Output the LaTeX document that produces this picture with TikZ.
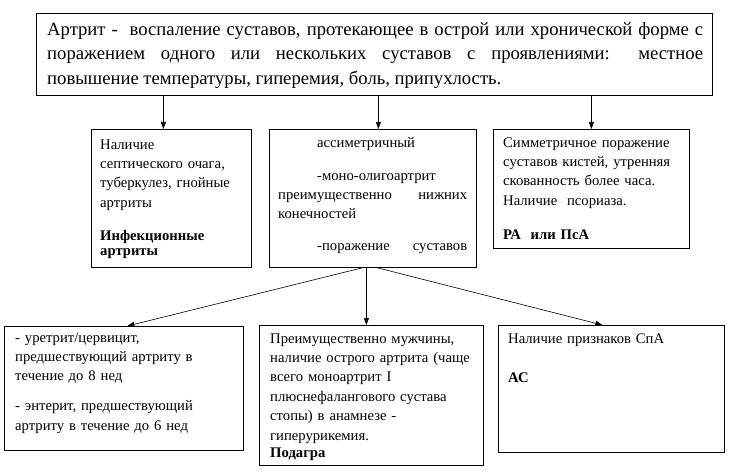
\documentclass[tikz,border=0pt]{standalone}
\usepackage{fontspec}
\setmainfont{Liberation Serif}
\usetikzlibrary{arrows.meta,positioning,calc}

\tikzset{
  frame/.style={draw, line width=0.8pt, anchor=north west, inner sep=0pt},
  txt/.style={anchor=north west, inner xsep=9pt, inner ysep=4.4pt, align=left,
    font=\fontsize{14.67}{19.4}\selectfont, execute at begin node={\strut}},
  arr/.style={-{Triangle[length=7pt,width=5pt]}, line width=0.6pt}
}

\begin{document}
\begin{tikzpicture}[x=1pt,y=-1pt]
  \useasboundingbox (0,0) rectangle (755,473);

  % Frames
  \node[frame, minimum width=676, minimum height=82] (top) at (36,13) {};
  \node[frame, minimum width=160, minimum height=138] (infect) at (91,129) {};
  \node[frame, minimum width=207, minimum height=138] (asym) at (269,129) {};
  \node[frame, minimum width=196, minimum height=119] (ra) at (493,129) {};
  \node[frame, minimum width=239, minimum height=124] (react) at (4,326) {};
  \node[frame, minimum width=224, minimum height=140] (gout) at (259,325) {};
  \node[frame, minimum width=226, minimum height=127] (as) at (498,325) {};

  % Texts
  \node[txt, text width=656, align=justify, inner xsep=11pt, inner ysep=4.8pt,
    font=\fontsize{18.67}{24.5}\selectfont] (toptxt) at (top.north west)
    {Артрит -\ \ воспаление суставов, протекающее в острой или хронической форме с\linebreak
     поражением одного или нескольких суставов с проявлениями: местное\linebreak
     повышение температуры, гиперемия, боль, припухлость.};
  \node[txt, text width=142, inner ysep=6.4pt] (infecttxt) at (infect.north west)
    {Наличие\\ септического очага,\\ туберкулез, гнойные\\ артриты\\[13.6pt]
     \textbf{Инфекционные}\\[-4.4pt] \textbf{артриты}};
  \node[txt, text width=189] (asymtxt) at (asym.north west)
    {\hspace*{39pt}ассиметричный\\[13.6pt]
     \hspace*{39pt}-моно-олигоартрит\\
     преимущественно\hfill нижних\\
     конечностей\\[12.6pt]
     \hspace*{39pt}-поражение\hfill суставов};
  \node[txt, text width=176, inner xsep=10pt] (ratxt) at (ra.north west)
    {Симметричное поражение\\ суставов кистей, утренняя\\ скованность более часа.\\
     Наличие\ \ псориаза.\\[14.6pt] \textbf{РА\ \ или ПсА}};
  \node[txt, text width=217, inner xsep=11pt, inner ysep=2.4pt] (reacttxt) at (react.north west)
    {- уретрит/цервицит,\\ предшествующий артриту в\\ течение до 8 нед\\[10.6pt]
     - энтерит, предшествующий\\ артриту в течение до 6 нед};
  \node[txt, text width=202, inner xsep=11pt] (gouttxt) at (gout.north west)
    {Преимущественно мужчины,\\ наличие острого артрита (чаще\\ всего моноартрит I\\
     плюснефалангового сустава\\ стопы) в анамнезе -\\ гиперурикемия.\\[-2.4pt]
     \textbf{Подагра}};
  \node[txt, text width=206, inner xsep=10pt] (astxt) at (as.north west)
    {Наличие признаков СпА\\[19.6pt] \textbf{АС}};

  % Arrows from the definition
  \draw[arr] ([xshift=-8]infect.north |- top.south) -- ([xshift=-8]infect.north);
  \draw[arr] ([xshift=5.5]asym.north |- top.south) -- ([xshift=5.5]asym.north);
  \draw[arr] (ra.north |- top.south) -- (ra.north);

  % Arrows from the asymmetric box
  \coordinate (fork) at ([xshift=-6.5]asym.south);
  \draw[arr] ([xshift=-10.5]asym.south) -- ([xshift=3.5]react.north);
  \draw[arr] (fork) -- (fork |- gout.north);
  \draw[arr] ([xshift=4.5]asym.south) -- ([xshift=-9]as.north);
\end{tikzpicture}
\end{document}
